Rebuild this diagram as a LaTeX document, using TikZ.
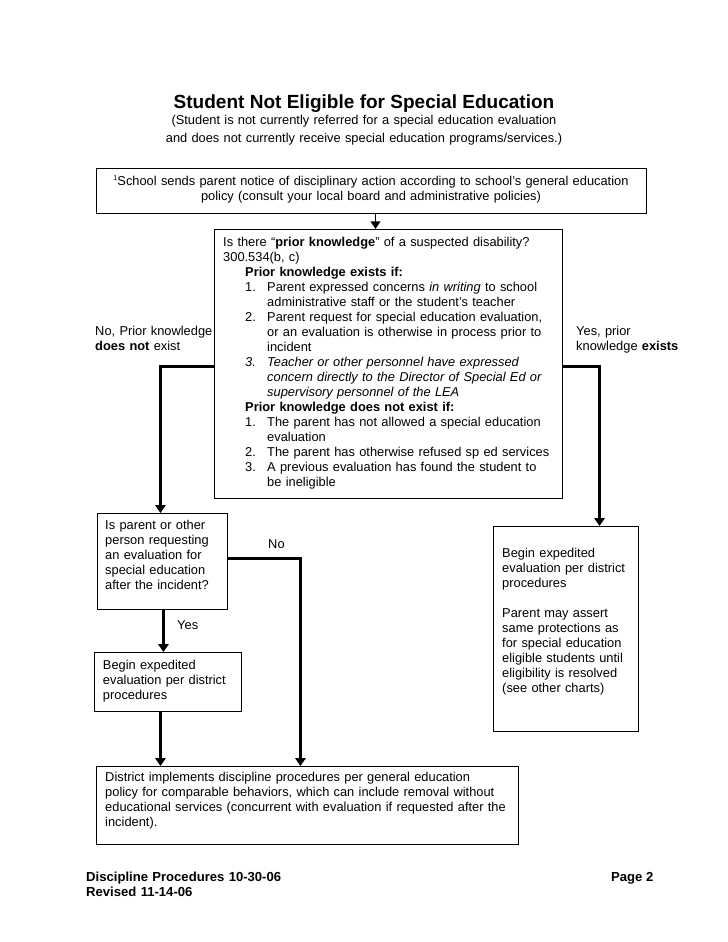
\documentclass[tikz,border=0pt]{standalone}
\usepackage{fontspec}
\setmainfont{Liberation Sans}
\usetikzlibrary{arrows.meta}
\newlength\px
\setlength\px{0.8407pt}
\newcommand\bodyfont{\fontsize{10.8}{12.6}\selectfont}
\begin{document}
\begin{tikzpicture}[x=0.8407pt,y=-0.8407pt,
  boxshape/.style={draw, line width=0.8pt, inner sep=0pt, anchor=north west},
  txt/.style={inner sep=0pt, anchor=north west, font=\bodyfont, align=left, text width=#1},
  txt/.default=360pt,
  lbl/.style={inner sep=0pt, anchor=base west, font=\bodyfont},
  thickarrow/.style={line width=3pt, -{Triangle[width=8.6pt,length=6.6pt]}},
  smallarrow/.style={line width=1.6pt, -{Triangle[width=8pt,length=6.4pt]}}
]
\fill[white] (0,0) rectangle (728,942);
\useasboundingbox (0,0) rectangle (728,942);

% title
\node[anchor=base, inner sep=0pt, font=\bfseries\fontsize{16}{19}\selectfont] (title) at (364,108) {Student Not Eligible for Special Education};
\node[inner sep=0pt, anchor=north, font=\fontsize{10.8}{15.4}\selectfont, align=center, text width=440pt] (subtitle) at (364,124-12.9)
  {\strut(Student is not currently referred for a special education evaluation\\
   and does not currently receive special education programs/services.)};

% boxes
\node[boxshape, minimum width=550*\px, minimum height=45*\px] (topbox) at (96,168) {};
\node[boxshape, minimum width=348*\px, minimum height=269*\px] (central) at (214,229) {};
\node[boxshape, minimum width=130*\px, minimum height=96*\px] (parentbox) at (97,513) {};
\node[boxshape, minimum width=147*\px, minimum height=59*\px] (beginbox) at (94,652) {};
\node[boxshape, minimum width=145*\px, minimum height=205*\px] (rightbox) at (493,526) {};
\node[boxshape, minimum width=422*\px, minimum height=78*\px] (bottombox) at (96,766) {};

% box texts
\node[inner sep=0pt, anchor=north, font=\bodyfont, align=center, text width=520pt] (toptext) at (371,185-10.49)
  {\strut{\fontsize{6}{6}\selectfont\raisebox{4pt}{1}}School sends parent notice of disciplinary action according to school’s general education\\
   policy (consult your local board and administrative policies)};

\node[txt] (centraltext) at (223,246-10.49)
  {\strut Is there “\textbf{prior knowledge}” of a suspected disability?\\
   300.534(b, c)\\
   \hspace*{22\px}\textbf{Prior knowledge exists if:}\\
   \hspace*{22\px}\makebox[22\px][l]{1.}Parent expressed concerns \textit{in writing} to school\\
   \hspace*{44\px}administrative staff or the student’s teacher\\
   \hspace*{22\px}\makebox[22\px][l]{2.}Parent request for special education evaluation,\\
   \hspace*{44\px}or an evaluation is otherwise in process prior to\\
   \hspace*{44\px}incident\\
   \hspace*{22\px}\textit{\makebox[22\px][l]{3.}Teacher or other personnel have expressed}\\
   \hspace*{44\px}\textit{concern directly to the Director of Special Ed or}\\
   \hspace*{44\px}\textit{supervisory personnel of the LEA}\\
   \hspace*{22\px}\textbf{Prior knowledge does not exist if:}\\
   \hspace*{22\px}\makebox[22\px][l]{1.}The parent has not allowed a special education\\
   \hspace*{44\px}evaluation\\
   \hspace*{22\px}\makebox[22\px][l]{2.}The parent has otherwise refused sp ed services\\
   \hspace*{22\px}\makebox[22\px][l]{3.}A previous evaluation has found the student to\\
   \hspace*{44\px}be ineligible};

\node[txt=150pt] (parenttext) at (105,529-10.49)
  {\strut Is parent or other\\person requesting\\an evaluation for\\special education\\after the incident?};
\node[txt=150pt] (begintext) at (102.7,669-10.49)
  {\strut Begin expedited\\evaluation per district\\procedures};
\node[txt=150pt] (righttext) at (502,557-10.49)
  {\strut Begin expedited\\evaluation per district\\procedures\\[12.6pt]Parent may assert\\same protections as\\for special education\\eligible students until\\eligibility is resolved\\(see other charts)};
\node[txt=420pt] (bottomtext) at (105,781-10.49)
  {\strut District implements discipline procedures per general education\\
   policy for comparable behaviors, which can include removal without\\
   educational services (concurrent with evaluation if requested after the\\
   incident).};

% branch labels
\node[txt=150pt] (nolabel) at (95,335-10.49)
  {\strut No, Prior knowledge\\\textbf{does not} exist};
\node[txt=150pt] (yeslabel) at (576,335-10.49)
  {\strut Yes, prior\\knowledge \textbf{exists}};
\node[lbl] (nosmall) at (268,548) {No};
\node[lbl] (yessmall) at (177,629) {Yes};

% footer
\node[txt=300pt, font=\bfseries\fontsize{11}{12.6}\selectfont] (footer) at (86,881-10.49)
  {\strut Discipline Procedures 10-30-06\\Revised 11-14-06};
\node[lbl, font=\bfseries\fontsize{11}{12.6}\selectfont] (page) at (611,881) {Page 2};

% connectors
\draw[smallarrow] ([xshift=3.4pt]topbox.south) -- ([xshift=3.4pt]topbox.south |- central.north);
\draw[thickarrow] ([yshift=-2.1pt]central.west) -| ([xshift=-1.7pt]parentbox.north);
\draw[thickarrow] ([yshift=-2.1pt]central.east) -| ([xshift=28.2pt]rightbox.north);
\draw[thickarrow] ([xshift=0.8pt]parentbox.south) -- ([xshift=0.8pt]parentbox.south |- beginbox.north);
\draw[thickarrow] ([yshift=2.5pt]parentbox.east) -| ([xshift=-5.9pt]bottombox.north);
\draw[thickarrow] ([xshift=-6.3pt]beginbox.south) -- ([xshift=-6.3pt]beginbox.south |- bottombox.north);
\end{tikzpicture}
\end{document}
